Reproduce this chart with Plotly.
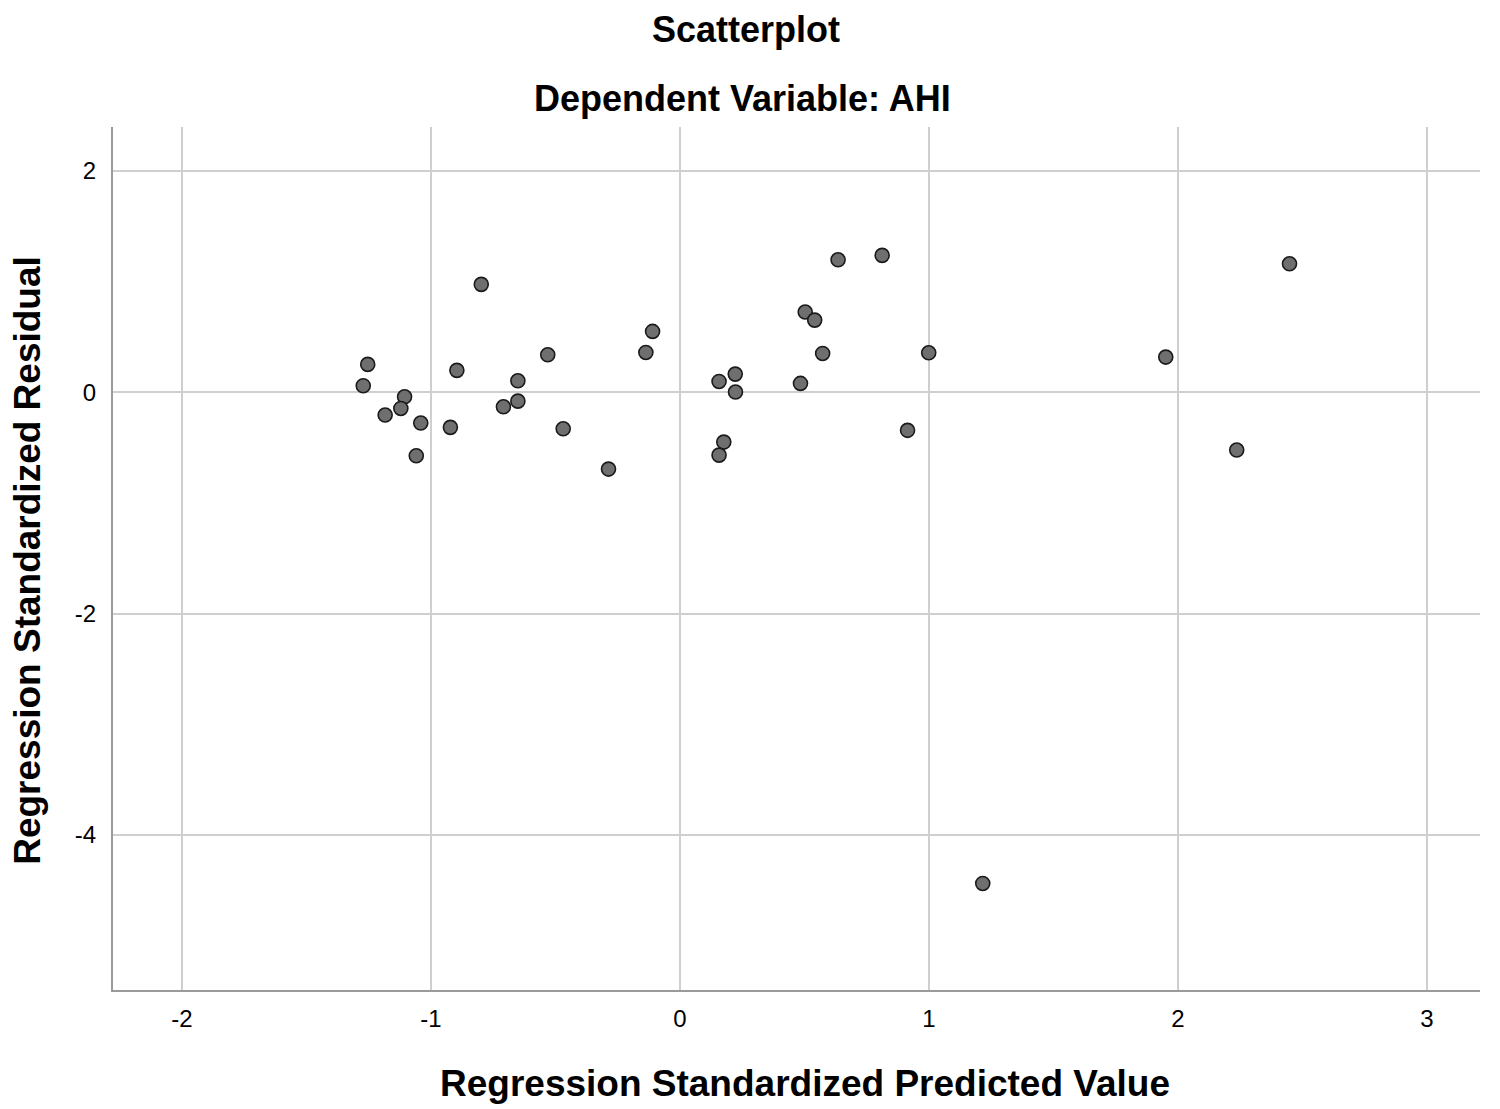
"""Regression residual scatterplot (SPSS style): standardized predicted vs standardized residual"""
import plotly.graph_objects as go

# colours
COLOR_MARKER = "#6f6f6f"
COLOR_MARKER_EDGE = "#1a1a1a"
COLOR_GRID = "#cfcfcf"
COLOR_AXIS = "#9a9a9a"
COLOR_TEXT = "#000000"

FONT = "Liberation Sans, Arial, sans-serif"

# data
pred_std = [
    -0.798, -1.254, -1.272, -1.106, -1.121, -1.184, -1.041, -1.059, -0.896, -0.922,
    -0.531, -0.651, -0.651, -0.709, -0.469, -0.110, -0.137, -0.287, 0.635, 0.812,
    0.503, 0.541, 0.573, 0.999, 0.157, 0.222, 0.223, 0.484, 0.914, 0.176,
    0.157, 2.448, 1.951, 2.236, 1.216,
]
resid_std = [
    0.976, 0.253, 0.060, -0.040, -0.145, -0.205, -0.277, -0.573, 0.199, -0.316,
    0.340, 0.105, -0.079, -0.130, -0.329, 0.551, 0.361, -0.693, 1.198, 1.238,
    0.726, 0.653, 0.352, 0.358, 0.099, 0.165, 0.003, 0.081, -0.343, -0.449,
    -0.567, 1.162, 0.319, -0.521, -4.437,
]

x_ticks = [-2, -1, 0, 1, 2, 3]
y_ticks = [2, 0, -2, -4]

fig = go.Figure()
fig.add_trace(
    go.Scatter(
        x=pred_std,
        y=resid_std,
        mode="markers",
        marker=dict(size=14, color=COLOR_MARKER, line=dict(width=1.6, color=COLOR_MARKER_EDGE)),
        showlegend=False,
    )
)

axis_style = dict(
    showgrid=True,
    gridcolor=COLOR_GRID,
    gridwidth=2,
    zeroline=False,
    showline=True,
    linecolor=COLOR_AXIS,
    linewidth=2,
    ticks="",
    tickfont=dict(size=24, color=COLOR_TEXT, family=FONT),
)
fig.update_xaxes(
    range=[-2.277, 3.213],
    tickvals=x_ticks,
    ticktext=[str(v) for v in x_ticks],
    ticklabelstandoff=6,
    **axis_style,
)
fig.update_yaxes(
    range=[-5.40, 2.398],
    tickvals=y_ticks,
    ticktext=[str(v) for v in y_ticks],
    ticklabelstandoff=10,
    **axis_style,
)

# titles
fig.add_annotation(
    text="<b>Scatterplot</b>", x=0.4628, y=1.1124, xref="paper", yref="paper",
    xanchor="center", yanchor="middle", showarrow=False,
    font=dict(size=36, family=FONT, color=COLOR_TEXT),
)
fig.add_annotation(
    text="<b>Dependent Variable: AHI</b>", x=0.4605, y=1.0336, xref="paper", yref="paper",
    xanchor="center", yanchor="middle", showarrow=False,
    font=dict(size=36, family=FONT, color=COLOR_TEXT),
)
fig.add_annotation(
    text="<b>Regression Standardized Predicted Value</b>", x=0.506, y=-0.108,
    xref="paper", yref="paper", xanchor="center", yanchor="middle", showarrow=False,
    font=dict(size=37, family=FONT, color=COLOR_TEXT),
)
fig.add_annotation(
    text="<b>Regression Standardized Residual</b>", x=-0.0625, y=0.498,
    xref="paper", yref="paper", xanchor="center", yanchor="middle", showarrow=False,
    textangle=-90,
    font=dict(size=37, family=FONT, color=COLOR_TEXT),
)

# the page puts the figure 8px in from the top-left corner
fig.update_layout(
    width=1492,
    height=1101,
    margin=dict(l=105, r=20, t=119, b=119),
    plot_bgcolor="white",
    paper_bgcolor="white",
    font=dict(family=FONT, color=COLOR_TEXT),
)

fig.write_html("out.html")
